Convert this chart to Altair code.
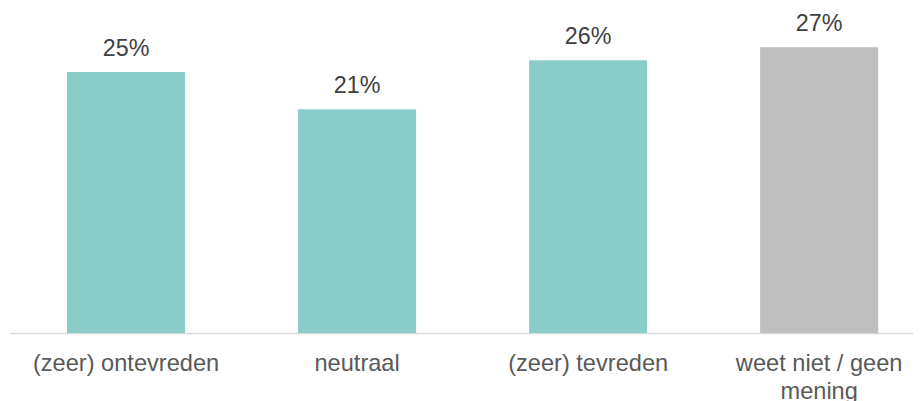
import altair as alt
import pandas as pd

categories = ["(zeer) ontevreden", "neutraal", "(zeer) tevreden", "weet niet / geen|mening"]
values = [25.02, 21.45, 26.14, 27.39]
labels = ["25%", "21%", "26%", "27%"]
colors = ["#8ACCC8", "#8ACCC8", "#8ACCC8", "#BFBFBF"]

df = pd.DataFrame({"cat": categories, "value": values, "label": labels, "color": colors})

x = alt.X(
    "cat:N",
    sort=categories,
    title=None,
    scale=alt.Scale(paddingInner=0.489, paddingOuter=0.1987, align=0.621),
    axis=alt.Axis(
        labelAngle=0,
        ticks=False,
        tickSize=0,
        labelPadding=18,
        labelLimit=0,
        labelFont="Liberation Sans",
        labelFontSize=23.6,
        labelColor="#595959",
        labelLineHeight=28,
        domainColor="#D9D9D9",
        domainWidth=1.5,
        labelExpr="split(datum.label, '|')",
    ),
)
y = alt.Y("value:Q", scale=alt.Scale(domain=[0, 30], nice=False), axis=None)

base = alt.Chart(df)
bars = base.mark_bar().encode(x=x, y=y, color=alt.Color("color:N", scale=None))
text = base.mark_text(
    baseline="alphabetic", dy=-16, font="Liberation Sans", fontSize=23.3, color="#404040"
).encode(x=x, y=y, text="label:N")

chart = (
    alt.layer(bars, text)
    .properties(
        width=903,
        height=313,
        autosize=alt.AutoSizeParams(type="none"),
        padding={"left": 2, "right": 0, "top": 12, "bottom": 68},
    )
    .configure_view(stroke=None)
)

chart.save("out.html", embed_options={"renderer": "svg", "actions": False})
